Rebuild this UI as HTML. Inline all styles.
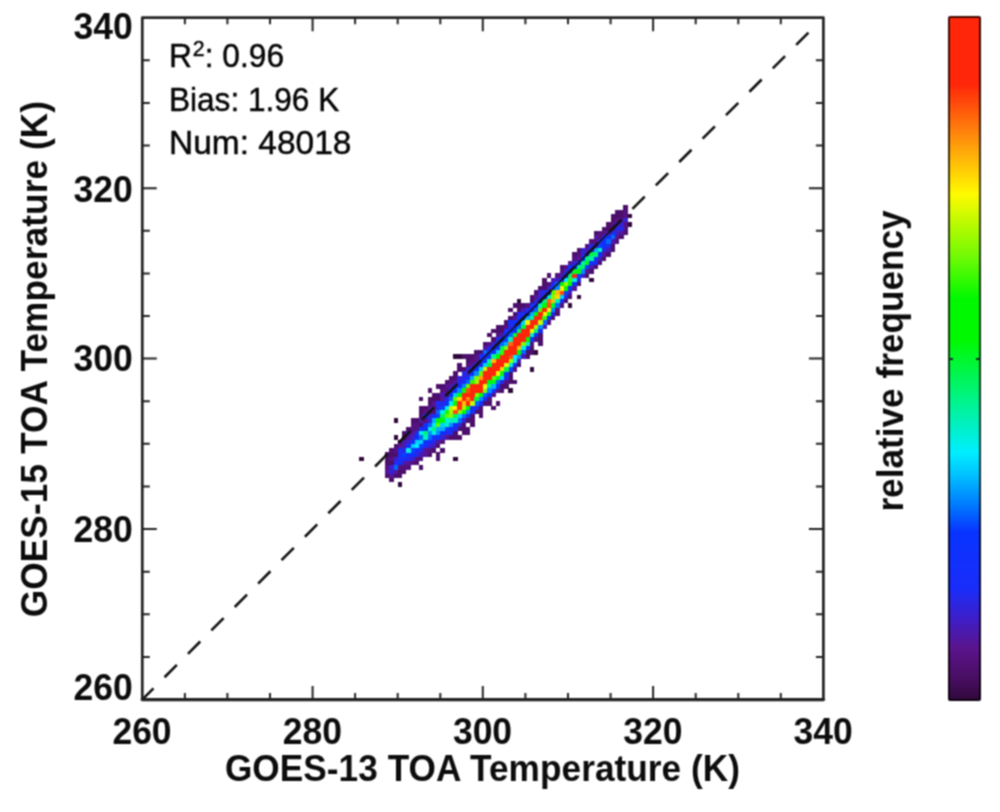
<!DOCTYPE html>
<html><head><meta charset="utf-8"><title>GOES-15 vs GOES-13 TOA Temperature</title>
<style>
html,body{margin:0;padding:0;background:#fff;}
body{width:1000px;height:812px;position:relative;overflow:hidden;font-family:"Liberation Sans",sans-serif;color:#0c0c0c;}
.b{position:absolute;font-weight:bold;white-space:nowrap;line-height:1;}
.f{filter:url(#bl2);}
.tk{font-size:35.5px;}
.xt{transform:translateX(-50%) scaleY(1.055);top:713.8px;}
.yt{text-align:right;width:100px;left:32.8px;transform:scaleY(1.055);}
.ttl{font-size:35.2px;}
.ann{position:absolute;left:168.8px;font-size:33.6px;line-height:1;white-space:nowrap;color:#050505;transform-origin:0 50%;-webkit-text-stroke:0.45px #050505;}
.ann sup{font-size:22.5px;line-height:0;vertical-align:baseline;position:relative;top:-10.6px;margin-left:1px;}
#cb{position:absolute;left:947.8px;top:16.3px;width:29px;height:681px;border:2px solid rgba(0,0,0,0.72);border-radius:2px;background:linear-gradient(to bottom, #ff260a 0.0%, #ff260a 10.0%, #ff910c 18.0%, #fffa00 26.0%, #aafa00 31.4%, #73fa05 35.0%, #00f900 41.3%, #00f900 47.2%, #00f480 55.5%, #00eeff 63.7%, #00beff 67.2%, #007aff 71.4%, #0834ff 75.3%, #1a2dfa 83.6%, #3e1ec8 88.0%, #5a148c 92.3%, #480e62 96.7%, #30083a 100.0%) border-box;}
.cbt{position:absolute;top:357.7px;width:4px;height:2px;background:#222;}
</style></head><body>
<svg width="1000" height="812" viewBox="0 0 1000 812" style="position:absolute;left:0;top:0">
<defs><clipPath id="pc"><rect x="142.3" y="17.7" width="681.1" height="681.8"/></clipPath><filter id="bl" x="-5%" y="-5%" width="110%" height="110%" color-interpolation-filters="sRGB"><feConvolveMatrix order="3" kernelMatrix="1 2 1 2 4 2 1 2 1" divisor="16"/></filter><filter id="bl2" x="-2%" y="-2%" width="104%" height="104%" color-interpolation-filters="sRGB"><feConvolveMatrix order="3" kernelMatrix="1 2 1 2 4 2 1 2 1" divisor="16"/></filter></defs>
<g filter="url(#bl)" shape-rendering="crispEdges">
<path fill="#4c0f6b" d="M384.9 473.7h4.41v4.41h-4.41zM384.9 460.9h4.41v4.41h-4.41zM384.9 456.6h4.41v4.41h-4.41zM384.9 452.3h4.41v4.41h-4.41zM389.2 477.9h4.41v4.41h-4.41zM389.2 460.9h4.41v4.41h-4.41zM389.2 452.3h4.41v4.41h-4.41zM389.2 448.1h4.41v4.41h-4.41zM393.5 473.7h4.41v4.41h-4.41zM393.5 452.3h4.41v4.41h-4.41zM393.5 443.8h4.41v4.41h-4.41zM397.7 473.7h4.41v4.41h-4.41zM397.7 469.4h4.41v4.41h-4.41zM402.0 469.4h4.41v4.41h-4.41zM402.0 435.3h4.41v4.41h-4.41zM402.0 431.0h4.41v4.41h-4.41zM406.2 426.8h4.41v4.41h-4.41zM410.5 418.3h4.41v4.41h-4.41zM414.7 460.9h4.41v4.41h-4.41zM414.7 418.3h4.41v4.41h-4.41zM419.0 465.1h4.41v4.41h-4.41zM419.0 422.5h4.41v4.41h-4.41zM419.0 414.0h4.41v4.41h-4.41zM419.0 409.7h4.41v4.41h-4.41zM419.0 405.5h4.41v4.41h-4.41zM419.0 397.0h4.41v4.41h-4.41zM423.3 405.5h4.41v4.41h-4.41zM427.5 452.3h4.41v4.41h-4.41zM427.5 401.2h4.41v4.41h-4.41zM427.5 397.0h4.41v4.41h-4.41zM427.5 388.4h4.41v4.41h-4.41zM431.8 448.1h4.41v4.41h-4.41zM431.8 397.0h4.41v4.41h-4.41zM431.8 392.7h4.41v4.41h-4.41zM436.0 456.6h4.41v4.41h-4.41zM436.0 452.3h4.41v4.41h-4.41zM436.0 443.8h4.41v4.41h-4.41zM436.0 397.0h4.41v4.41h-4.41zM436.0 392.7h4.41v4.41h-4.41zM436.0 384.2h4.41v4.41h-4.41zM440.3 448.1h4.41v4.41h-4.41zM440.3 384.2h4.41v4.41h-4.41zM444.5 379.9h4.41v4.41h-4.41zM448.8 435.3h4.41v4.41h-4.41zM448.8 375.6h4.41v4.41h-4.41zM453.1 435.3h4.41v4.41h-4.41zM453.1 431.0h4.41v4.41h-4.41zM453.1 375.6h4.41v4.41h-4.41zM453.1 371.4h4.41v4.41h-4.41zM457.3 435.3h4.41v4.41h-4.41zM457.3 426.8h4.41v4.41h-4.41zM457.3 367.1h4.41v4.41h-4.41zM457.3 362.9h4.41v4.41h-4.41zM461.6 431.0h4.41v4.41h-4.41zM461.6 426.8h4.41v4.41h-4.41zM461.6 422.5h4.41v4.41h-4.41zM461.6 367.1h4.41v4.41h-4.41zM461.6 354.3h4.41v4.41h-4.41zM465.8 431.0h4.41v4.41h-4.41zM465.8 426.8h4.41v4.41h-4.41zM465.8 418.3h4.41v4.41h-4.41zM465.8 358.6h4.41v4.41h-4.41zM465.8 354.3h4.41v4.41h-4.41zM470.1 422.5h4.41v4.41h-4.41zM470.1 418.3h4.41v4.41h-4.41zM470.1 414.0h4.41v4.41h-4.41zM470.1 354.3h4.41v4.41h-4.41zM474.3 409.7h4.41v4.41h-4.41zM474.3 350.1h4.41v4.41h-4.41zM478.6 414.0h4.41v4.41h-4.41zM478.6 409.7h4.41v4.41h-4.41zM478.6 405.5h4.41v4.41h-4.41zM478.6 350.1h4.41v4.41h-4.41zM482.8 401.2h4.41v4.41h-4.41zM482.8 341.6h4.41v4.41h-4.41zM487.1 401.2h4.41v4.41h-4.41zM487.1 333.0h4.41v4.41h-4.41zM491.4 405.5h4.41v4.41h-4.41zM491.4 337.3h4.41v4.41h-4.41zM491.4 328.8h4.41v4.41h-4.41zM495.6 401.2h4.41v4.41h-4.41zM495.6 328.8h4.41v4.41h-4.41zM495.6 324.5h4.41v4.41h-4.41zM499.9 388.4h4.41v4.41h-4.41zM499.9 384.2h4.41v4.41h-4.41zM499.9 328.8h4.41v4.41h-4.41zM499.9 324.5h4.41v4.41h-4.41zM504.1 384.2h4.41v4.41h-4.41zM504.1 320.2h4.41v4.41h-4.41zM508.4 379.9h4.41v4.41h-4.41zM508.4 375.6h4.41v4.41h-4.41zM508.4 371.4h4.41v4.41h-4.41zM508.4 316.0h4.41v4.41h-4.41zM508.4 307.5h4.41v4.41h-4.41zM512.6 379.9h4.41v4.41h-4.41zM512.6 311.7h4.41v4.41h-4.41zM512.6 303.2h4.41v4.41h-4.41zM516.9 362.9h4.41v4.41h-4.41zM516.9 307.5h4.41v4.41h-4.41zM516.9 303.2h4.41v4.41h-4.41zM521.2 303.2h4.41v4.41h-4.41zM525.4 354.3h4.41v4.41h-4.41zM525.4 350.1h4.41v4.41h-4.41zM529.7 350.1h4.41v4.41h-4.41zM529.7 345.8h4.41v4.41h-4.41zM529.7 298.9h4.41v4.41h-4.41zM529.7 294.7h4.41v4.41h-4.41zM533.9 290.4h4.41v4.41h-4.41zM538.2 341.6h4.41v4.41h-4.41zM538.2 337.3h4.41v4.41h-4.41zM538.2 333.0h4.41v4.41h-4.41zM538.2 286.2h4.41v4.41h-4.41zM542.4 286.2h4.41v4.41h-4.41zM542.4 281.9h4.41v4.41h-4.41zM542.4 277.6h4.41v4.41h-4.41zM546.7 273.4h4.41v4.41h-4.41zM551.0 316.0h4.41v4.41h-4.41zM555.2 311.7h4.41v4.41h-4.41zM559.5 264.9h4.41v4.41h-4.41zM563.7 298.9h4.41v4.41h-4.41zM568.0 294.7h4.41v4.41h-4.41zM572.2 252.1h4.41v4.41h-4.41zM576.5 281.9h4.41v4.41h-4.41zM576.5 247.8h4.41v4.41h-4.41zM585.0 273.4h4.41v4.41h-4.41zM589.3 269.1h4.41v4.41h-4.41zM593.5 264.9h4.41v4.41h-4.41zM593.5 230.8h4.41v4.41h-4.41zM597.8 260.6h4.41v4.41h-4.41zM602.0 256.3h4.41v4.41h-4.41zM602.0 226.5h4.41v4.41h-4.41zM606.3 252.1h4.41v4.41h-4.41zM606.3 226.5h4.41v4.41h-4.41zM606.3 222.2h4.41v4.41h-4.41zM610.6 247.8h4.41v4.41h-4.41zM610.6 243.5h4.41v4.41h-4.41zM610.6 218.0h4.41v4.41h-4.41zM610.6 213.7h4.41v4.41h-4.41zM614.8 213.7h4.41v4.41h-4.41zM614.8 209.5h4.41v4.41h-4.41zM619.1 235.0h4.41v4.41h-4.41zM619.1 213.7h4.41v4.41h-4.41zM619.1 209.5h4.41v4.41h-4.41zM623.3 230.8h4.41v4.41h-4.41zM623.3 205.2h4.41v4.41h-4.41z"/>
<path fill="#551697" d="M384.9 469.4h4.41v4.41h-4.41zM389.2 473.7h4.41v4.41h-4.41zM393.5 469.4h4.41v4.41h-4.41zM397.7 443.8h4.41v4.41h-4.41zM406.2 460.9h4.41v4.41h-4.41zM406.2 435.3h4.41v4.41h-4.41zM410.5 431.0h4.41v4.41h-4.41zM419.0 418.3h4.41v4.41h-4.41zM423.3 452.3h4.41v4.41h-4.41zM423.3 448.1h4.41v4.41h-4.41zM427.5 405.5h4.41v4.41h-4.41zM431.8 405.5h4.41v4.41h-4.41zM431.8 401.2h4.41v4.41h-4.41zM436.0 439.6h4.41v4.41h-4.41zM440.3 397.0h4.41v4.41h-4.41zM444.5 435.3h4.41v4.41h-4.41zM444.5 392.7h4.41v4.41h-4.41zM444.5 384.2h4.41v4.41h-4.41zM448.8 384.2h4.41v4.41h-4.41zM453.1 379.9h4.41v4.41h-4.41zM470.1 362.9h4.41v4.41h-4.41zM474.3 358.6h4.41v4.41h-4.41zM482.8 345.8h4.41v4.41h-4.41zM512.6 316.0h4.41v4.41h-4.41zM533.9 294.7h4.41v4.41h-4.41zM568.0 260.6h4.41v4.41h-4.41zM572.2 286.2h4.41v4.41h-4.41zM576.5 256.3h4.41v4.41h-4.41zM585.0 269.1h4.41v4.41h-4.41zM593.5 235.0h4.41v4.41h-4.41zM602.0 252.1h4.41v4.41h-4.41zM614.8 235.0h4.41v4.41h-4.41zM619.1 230.8h4.41v4.41h-4.41z"/>
<path fill="#55127f" d="M384.9 465.1h4.41v4.41h-4.41zM389.2 456.6h4.41v4.41h-4.41zM393.5 448.1h4.41v4.41h-4.41zM397.7 465.1h4.41v4.41h-4.41zM397.7 439.6h4.41v4.41h-4.41zM402.0 465.1h4.41v4.41h-4.41zM406.2 465.1h4.41v4.41h-4.41zM410.5 460.9h4.41v4.41h-4.41zM410.5 426.8h4.41v4.41h-4.41zM410.5 422.5h4.41v4.41h-4.41zM414.7 456.6h4.41v4.41h-4.41zM414.7 426.8h4.41v4.41h-4.41zM414.7 422.5h4.41v4.41h-4.41zM419.0 456.6h4.41v4.41h-4.41zM423.3 418.3h4.41v4.41h-4.41zM423.3 409.7h4.41v4.41h-4.41zM427.5 448.1h4.41v4.41h-4.41zM427.5 409.7h4.41v4.41h-4.41zM431.8 409.7h4.41v4.41h-4.41zM440.3 439.6h4.41v4.41h-4.41zM440.3 388.4h4.41v4.41h-4.41zM444.5 388.4h4.41v4.41h-4.41zM448.8 379.9h4.41v4.41h-4.41zM465.8 362.9h4.41v4.41h-4.41zM470.1 358.6h4.41v4.41h-4.41zM474.3 354.3h4.41v4.41h-4.41zM487.1 397.0h4.41v4.41h-4.41zM487.1 341.6h4.41v4.41h-4.41zM491.4 392.7h4.41v4.41h-4.41zM495.6 388.4h4.41v4.41h-4.41zM495.6 333.0h4.41v4.41h-4.41zM504.1 379.9h4.41v4.41h-4.41zM504.1 324.5h4.41v4.41h-4.41zM512.6 367.1h4.41v4.41h-4.41zM525.4 303.2h4.41v4.41h-4.41zM529.7 341.6h4.41v4.41h-4.41zM533.9 337.3h4.41v4.41h-4.41zM546.7 320.2h4.41v4.41h-4.41zM546.7 281.9h4.41v4.41h-4.41zM555.2 307.5h4.41v4.41h-4.41zM555.2 273.4h4.41v4.41h-4.41zM559.5 303.2h4.41v4.41h-4.41zM559.5 269.1h4.41v4.41h-4.41zM563.7 264.9h4.41v4.41h-4.41zM572.2 256.3h4.41v4.41h-4.41zM576.5 252.1h4.41v4.41h-4.41zM585.0 243.5h4.41v4.41h-4.41zM589.3 239.3h4.41v4.41h-4.41zM593.5 239.3h4.41v4.41h-4.41zM597.8 235.0h4.41v4.41h-4.41zM597.8 230.8h4.41v4.41h-4.41zM602.0 230.8h4.41v4.41h-4.41zM610.6 226.5h4.41v4.41h-4.41zM610.6 222.2h4.41v4.41h-4.41zM614.8 239.3h4.41v4.41h-4.41zM614.8 218.0h4.41v4.41h-4.41zM619.1 218.0h4.41v4.41h-4.41zM623.3 226.5h4.41v4.41h-4.41zM623.3 222.2h4.41v4.41h-4.41zM623.3 213.7h4.41v4.41h-4.41zM623.3 209.5h4.41v4.41h-4.41z"/>
<path fill="#3821d1" d="M389.2 469.4h4.41v4.41h-4.41zM389.2 465.1h4.41v4.41h-4.41zM393.5 456.6h4.41v4.41h-4.41zM406.2 439.6h4.41v4.41h-4.41zM410.5 456.6h4.41v4.41h-4.41zM410.5 435.3h4.41v4.41h-4.41zM427.5 443.8h4.41v4.41h-4.41zM427.5 414.0h4.41v4.41h-4.41zM440.3 435.3h4.41v4.41h-4.41zM457.3 422.5h4.41v4.41h-4.41zM457.3 375.6h4.41v4.41h-4.41zM461.6 418.3h4.41v4.41h-4.41zM465.8 371.4h4.41v4.41h-4.41zM465.8 367.1h4.41v4.41h-4.41zM491.4 341.6h4.41v4.41h-4.41zM533.9 298.9h4.41v4.41h-4.41zM538.2 294.7h4.41v4.41h-4.41zM538.2 290.4h4.41v4.41h-4.41zM546.7 286.2h4.41v4.41h-4.41zM555.2 277.6h4.41v4.41h-4.41zM563.7 269.1h4.41v4.41h-4.41zM572.2 260.6h4.41v4.41h-4.41zM580.8 273.4h4.41v4.41h-4.41zM580.8 252.1h4.41v4.41h-4.41zM580.8 247.8h4.41v4.41h-4.41zM593.5 243.5h4.41v4.41h-4.41zM614.8 230.8h4.41v4.41h-4.41zM614.8 222.2h4.41v4.41h-4.41zM619.1 222.2h4.41v4.41h-4.41zM623.3 218.0h4.41v4.41h-4.41z"/>
<path fill="#0269ff" d="M393.5 465.1h4.41v4.41h-4.41zM419.0 435.3h4.41v4.41h-4.41zM427.5 435.3h4.41v4.41h-4.41zM427.5 422.5h4.41v4.41h-4.41zM436.0 409.7h4.41v4.41h-4.41zM448.8 397.0h4.41v4.41h-4.41zM457.3 418.3h4.41v4.41h-4.41zM461.6 414.0h4.41v4.41h-4.41zM465.8 379.9h4.41v4.41h-4.41zM474.3 401.2h4.41v4.41h-4.41zM482.8 392.7h4.41v4.41h-4.41zM482.8 350.1h4.41v4.41h-4.41zM495.6 379.9h4.41v4.41h-4.41zM499.9 341.6h4.41v4.41h-4.41zM508.4 333.0h4.41v4.41h-4.41zM516.9 324.5h4.41v4.41h-4.41zM521.2 350.1h4.41v4.41h-4.41zM533.9 307.5h4.41v4.41h-4.41zM542.4 320.2h4.41v4.41h-4.41zM555.2 303.2h4.41v4.41h-4.41zM555.2 281.9h4.41v4.41h-4.41zM606.3 239.3h4.41v4.41h-4.41zM610.6 235.0h4.41v4.41h-4.41z"/>
<path fill="#192efa" d="M393.5 460.9h4.41v4.41h-4.41zM397.7 456.6h4.41v4.41h-4.41zM397.7 452.3h4.41v4.41h-4.41zM397.7 448.1h4.41v4.41h-4.41zM414.7 448.1h4.41v4.41h-4.41zM419.0 448.1h4.41v4.41h-4.41zM423.3 443.8h4.41v4.41h-4.41zM423.3 422.5h4.41v4.41h-4.41zM431.8 435.3h4.41v4.41h-4.41zM436.0 401.2h4.41v4.41h-4.41zM448.8 431.0h4.41v4.41h-4.41zM461.6 379.9h4.41v4.41h-4.41zM465.8 414.0h4.41v4.41h-4.41zM465.8 375.6h4.41v4.41h-4.41zM470.1 409.7h4.41v4.41h-4.41zM478.6 358.6h4.41v4.41h-4.41zM478.6 354.3h4.41v4.41h-4.41zM482.8 354.3h4.41v4.41h-4.41zM491.4 388.4h4.41v4.41h-4.41zM504.1 328.8h4.41v4.41h-4.41zM512.6 324.5h4.41v4.41h-4.41zM516.9 320.2h4.41v4.41h-4.41zM521.2 311.7h4.41v4.41h-4.41zM525.4 345.8h4.41v4.41h-4.41zM525.4 307.5h4.41v4.41h-4.41zM529.7 303.2h4.41v4.41h-4.41zM538.2 328.8h4.41v4.41h-4.41zM559.5 277.6h4.41v4.41h-4.41zM568.0 269.1h4.41v4.41h-4.41zM593.5 256.3h4.41v4.41h-4.41z"/>
<path fill="#0f31fd" d="M397.7 460.9h4.41v4.41h-4.41zM406.2 452.3h4.41v4.41h-4.41zM410.5 452.3h4.41v4.41h-4.41zM414.7 435.3h4.41v4.41h-4.41zM419.0 426.8h4.41v4.41h-4.41zM436.0 435.3h4.41v4.41h-4.41zM440.3 431.0h4.41v4.41h-4.41zM453.1 422.5h4.41v4.41h-4.41zM453.1 388.4h4.41v4.41h-4.41zM457.3 384.2h4.41v4.41h-4.41zM470.1 371.4h4.41v4.41h-4.41zM474.3 367.1h4.41v4.41h-4.41zM478.6 401.2h4.41v4.41h-4.41zM487.1 392.7h4.41v4.41h-4.41zM487.1 354.3h4.41v4.41h-4.41zM487.1 350.1h4.41v4.41h-4.41zM491.4 350.1h4.41v4.41h-4.41zM495.6 384.2h4.41v4.41h-4.41zM495.6 345.8h4.41v4.41h-4.41zM508.4 328.8h4.41v4.41h-4.41zM508.4 320.2h4.41v4.41h-4.41zM512.6 362.9h4.41v4.41h-4.41zM516.9 316.0h4.41v4.41h-4.41zM521.2 316.0h4.41v4.41h-4.41zM542.4 294.7h4.41v4.41h-4.41zM546.7 290.4h4.41v4.41h-4.41zM568.0 264.9h4.41v4.41h-4.41zM580.8 256.3h4.41v4.41h-4.41zM589.3 260.6h4.41v4.41h-4.41zM606.3 235.0h4.41v4.41h-4.41z"/>
<path fill="#471bb5" d="M402.0 460.9h4.41v4.41h-4.41zM402.0 443.8h4.41v4.41h-4.41zM402.0 439.6h4.41v4.41h-4.41zM406.2 431.0h4.41v4.41h-4.41zM419.0 452.3h4.41v4.41h-4.41zM431.8 443.8h4.41v4.41h-4.41zM440.3 392.7h4.41v4.41h-4.41zM499.9 333.0h4.41v4.41h-4.41zM516.9 358.6h4.41v4.41h-4.41zM521.2 354.3h4.41v4.41h-4.41zM521.2 307.5h4.41v4.41h-4.41zM542.4 324.5h4.41v4.41h-4.41zM551.0 277.6h4.41v4.41h-4.41zM559.5 273.4h4.41v4.41h-4.41zM568.0 290.4h4.41v4.41h-4.41zM585.0 247.8h4.41v4.41h-4.41zM589.3 264.9h4.41v4.41h-4.41zM597.8 256.3h4.41v4.41h-4.41zM606.3 247.8h4.41v4.41h-4.41zM606.3 230.8h4.41v4.41h-4.41zM610.6 239.3h4.41v4.41h-4.41z"/>
<path fill="#142ffc" d="M402.0 456.6h4.41v4.41h-4.41zM406.2 443.8h4.41v4.41h-4.41zM410.5 439.6h4.41v4.41h-4.41zM423.3 414.0h4.41v4.41h-4.41zM427.5 439.6h4.41v4.41h-4.41zM431.8 414.0h4.41v4.41h-4.41zM448.8 426.8h4.41v4.41h-4.41zM482.8 397.0h4.41v4.41h-4.41zM491.4 345.8h4.41v4.41h-4.41zM495.6 341.6h4.41v4.41h-4.41zM512.6 320.2h4.41v4.41h-4.41zM525.4 311.7h4.41v4.41h-4.41zM529.7 307.5h4.41v4.41h-4.41zM533.9 303.2h4.41v4.41h-4.41zM538.2 298.9h4.41v4.41h-4.41zM559.5 298.9h4.41v4.41h-4.41zM563.7 273.4h4.41v4.41h-4.41zM572.2 264.9h4.41v4.41h-4.41zM597.8 252.1h4.41v4.41h-4.41zM610.6 230.8h4.41v4.41h-4.41z"/>
<path fill="#0643ff" d="M402.0 452.3h4.41v4.41h-4.41zM410.5 448.1h4.41v4.41h-4.41zM419.0 443.8h4.41v4.41h-4.41zM436.0 414.0h4.41v4.41h-4.41zM440.3 405.5h4.41v4.41h-4.41zM444.5 426.8h4.41v4.41h-4.41zM504.1 337.3h4.41v4.41h-4.41zM508.4 367.1h4.41v4.41h-4.41zM551.0 286.2h4.41v4.41h-4.41zM563.7 290.4h4.41v4.41h-4.41zM576.5 273.4h4.41v4.41h-4.41zM585.0 264.9h4.41v4.41h-4.41zM597.8 243.5h4.41v4.41h-4.41z"/>
<path fill="#2628e9" d="M402.0 448.1h4.41v4.41h-4.41zM406.2 456.6h4.41v4.41h-4.41zM414.7 452.3h4.41v4.41h-4.41zM414.7 431.0h4.41v4.41h-4.41zM427.5 418.3h4.41v4.41h-4.41zM431.8 439.6h4.41v4.41h-4.41zM436.0 405.5h4.41v4.41h-4.41zM440.3 401.2h4.41v4.41h-4.41zM444.5 431.0h4.41v4.41h-4.41zM444.5 397.0h4.41v4.41h-4.41zM448.8 388.4h4.41v4.41h-4.41zM453.1 426.8h4.41v4.41h-4.41zM453.1 384.2h4.41v4.41h-4.41zM457.3 379.9h4.41v4.41h-4.41zM461.6 375.6h4.41v4.41h-4.41zM461.6 371.4h4.41v4.41h-4.41zM470.1 367.1h4.41v4.41h-4.41zM474.3 405.5h4.41v4.41h-4.41zM474.3 362.9h4.41v4.41h-4.41zM478.6 362.9h4.41v4.41h-4.41zM487.1 345.8h4.41v4.41h-4.41zM495.6 337.3h4.41v4.41h-4.41zM499.9 379.9h4.41v4.41h-4.41zM504.1 375.6h4.41v4.41h-4.41zM508.4 324.5h4.41v4.41h-4.41zM516.9 311.7h4.41v4.41h-4.41zM542.4 290.4h4.41v4.41h-4.41zM551.0 311.7h4.41v4.41h-4.41zM551.0 281.9h4.41v4.41h-4.41zM563.7 294.7h4.41v4.41h-4.41zM576.5 277.6h4.41v4.41h-4.41zM585.0 252.1h4.41v4.41h-4.41zM589.3 247.8h4.41v4.41h-4.41zM589.3 243.5h4.41v4.41h-4.41zM593.5 260.6h4.41v4.41h-4.41zM597.8 239.3h4.41v4.41h-4.41zM602.0 247.8h4.41v4.41h-4.41zM602.0 235.0h4.41v4.41h-4.41zM606.3 243.5h4.41v4.41h-4.41zM614.8 226.5h4.41v4.41h-4.41zM619.1 226.5h4.41v4.41h-4.41z"/>
<path fill="#00efe0" d="M406.2 448.1h4.41v4.41h-4.41zM427.5 426.8h4.41v4.41h-4.41zM431.8 431.0h4.41v4.41h-4.41zM431.8 422.5h4.41v4.41h-4.41zM444.5 418.3h4.41v4.41h-4.41zM512.6 358.6h4.41v4.41h-4.41zM521.2 345.8h4.41v4.41h-4.41zM572.2 277.6h4.41v4.41h-4.41z"/>
<path fill="#00cfff" d="M410.5 443.8h4.41v4.41h-4.41zM414.7 439.6h4.41v4.41h-4.41zM419.0 439.6h4.41v4.41h-4.41zM440.3 422.5h4.41v4.41h-4.41zM453.1 392.7h4.41v4.41h-4.41zM457.3 414.0h4.41v4.41h-4.41zM478.6 367.1h4.41v4.41h-4.41zM482.8 362.9h4.41v4.41h-4.41zM495.6 350.1h4.41v4.41h-4.41zM499.9 375.6h4.41v4.41h-4.41zM521.2 320.2h4.41v4.41h-4.41zM559.5 294.7h4.41v4.41h-4.41z"/>
<path fill="#00ecff" d="M414.7 443.8h4.41v4.41h-4.41zM419.0 431.0h4.41v4.41h-4.41zM440.3 409.7h4.41v4.41h-4.41zM444.5 405.5h4.41v4.41h-4.41zM448.8 401.2h4.41v4.41h-4.41zM512.6 354.3h4.41v4.41h-4.41zM563.7 277.6h4.41v4.41h-4.41z"/>
<path fill="#0b33fe" d="M423.3 439.6h4.41v4.41h-4.41zM423.3 426.8h4.41v4.41h-4.41zM444.5 401.2h4.41v4.41h-4.41zM448.8 392.7h4.41v4.41h-4.41zM470.1 405.5h4.41v4.41h-4.41zM482.8 358.6h4.41v4.41h-4.41zM499.9 337.3h4.41v4.41h-4.41zM504.1 371.4h4.41v4.41h-4.41zM504.1 333.0h4.41v4.41h-4.41zM512.6 328.8h4.41v4.41h-4.41zM529.7 337.3h4.41v4.41h-4.41zM533.9 333.0h4.41v4.41h-4.41zM546.7 316.0h4.41v4.41h-4.41zM568.0 286.2h4.41v4.41h-4.41zM572.2 281.9h4.41v4.41h-4.41zM576.5 260.6h4.41v4.41h-4.41zM602.0 243.5h4.41v4.41h-4.41zM602.0 239.3h4.41v4.41h-4.41z"/>
<path fill="#00f1bf" d="M423.3 435.3h4.41v4.41h-4.41zM444.5 422.5h4.41v4.41h-4.41zM448.8 418.3h4.41v4.41h-4.41zM453.1 418.3h4.41v4.41h-4.41zM487.1 358.6h4.41v4.41h-4.41zM508.4 362.9h4.41v4.41h-4.41zM508.4 337.3h4.41v4.41h-4.41zM525.4 341.6h4.41v4.41h-4.41zM529.7 333.0h4.41v4.41h-4.41zM538.2 303.2h4.41v4.41h-4.41zM546.7 294.7h4.41v4.41h-4.41zM555.2 298.9h4.41v4.41h-4.41zM597.8 247.8h4.41v4.41h-4.41z"/>
<path fill="#00f47d" d="M423.3 431.0h4.41v4.41h-4.41zM431.8 426.8h4.41v4.41h-4.41zM487.1 384.2h4.41v4.41h-4.41zM533.9 328.8h4.41v4.41h-4.41zM542.4 298.9h4.41v4.41h-4.41zM576.5 264.9h4.41v4.41h-4.41zM585.0 256.3h4.41v4.41h-4.41zM593.5 252.1h4.41v4.41h-4.41z"/>
<path fill="#008dff" d="M427.5 431.0h4.41v4.41h-4.41zM436.0 431.0h4.41v4.41h-4.41zM448.8 422.5h4.41v4.41h-4.41zM457.3 388.4h4.41v4.41h-4.41zM461.6 384.2h4.41v4.41h-4.41zM465.8 409.7h4.41v4.41h-4.41zM474.3 371.4h4.41v4.41h-4.41zM478.6 397.0h4.41v4.41h-4.41zM487.1 388.4h4.41v4.41h-4.41zM516.9 354.3h4.41v4.41h-4.41zM538.2 324.5h4.41v4.41h-4.41zM551.0 307.5h4.41v4.41h-4.41zM555.2 286.2h4.41v4.41h-4.41zM580.8 269.1h4.41v4.41h-4.41z"/>
<path fill="#00b0ff" d="M431.8 418.3h4.41v4.41h-4.41zM436.0 426.8h4.41v4.41h-4.41zM440.3 426.8h4.41v4.41h-4.41zM470.1 375.6h4.41v4.41h-4.41zM491.4 384.2h4.41v4.41h-4.41zM504.1 341.6h4.41v4.41h-4.41zM525.4 316.0h4.41v4.41h-4.41zM529.7 311.7h4.41v4.41h-4.41zM593.5 247.8h4.41v4.41h-4.41z"/>
<path fill="#5efa04" d="M436.0 422.5h4.41v4.41h-4.41zM444.5 414.0h4.41v4.41h-4.41zM453.1 397.0h4.41v4.41h-4.41zM465.8 384.2h4.41v4.41h-4.41zM478.6 371.4h4.41v4.41h-4.41zM491.4 375.6h4.41v4.41h-4.41zM538.2 307.5h4.41v4.41h-4.41zM551.0 290.4h4.41v4.41h-4.41z"/>
<path fill="#00f900" d="M436.0 418.3h4.41v4.41h-4.41zM440.3 418.3h4.41v4.41h-4.41zM453.1 401.2h4.41v4.41h-4.41zM457.3 392.7h4.41v4.41h-4.41zM461.6 409.7h4.41v4.41h-4.41zM465.8 405.5h4.41v4.41h-4.41zM478.6 392.7h4.41v4.41h-4.41zM487.1 379.9h4.41v4.41h-4.41zM495.6 354.3h4.41v4.41h-4.41zM516.9 350.1h4.41v4.41h-4.41zM525.4 337.3h4.41v4.41h-4.41zM533.9 311.7h4.41v4.41h-4.41zM542.4 303.2h4.41v4.41h-4.41zM559.5 281.9h4.41v4.41h-4.41zM563.7 286.2h4.41v4.41h-4.41zM568.0 281.9h4.41v4.41h-4.41zM576.5 269.1h4.41v4.41h-4.41z"/>
<path fill="#00f55c" d="M440.3 414.0h4.41v4.41h-4.41zM453.1 414.0h4.41v4.41h-4.41zM499.9 345.8h4.41v4.41h-4.41zM516.9 328.8h4.41v4.41h-4.41zM568.0 273.4h4.41v4.41h-4.41zM580.8 264.9h4.41v4.41h-4.41z"/>
<path fill="#10f901" d="M444.5 409.7h4.41v4.41h-4.41zM461.6 388.4h4.41v4.41h-4.41z"/>
<path fill="#82fa04" d="M448.8 414.0h4.41v4.41h-4.41zM457.3 409.7h4.41v4.41h-4.41zM474.3 392.7h4.41v4.41h-4.41zM474.3 375.6h4.41v4.41h-4.41zM482.8 388.4h4.41v4.41h-4.41zM504.1 345.8h4.41v4.41h-4.41zM521.2 341.6h4.41v4.41h-4.41zM551.0 294.7h4.41v4.41h-4.41z"/>
<path fill="#a2fa01" d="M448.8 409.7h4.41v4.41h-4.41zM461.6 405.5h4.41v4.41h-4.41zM474.3 379.9h4.41v4.41h-4.41zM508.4 358.6h4.41v4.41h-4.41zM533.9 324.5h4.41v4.41h-4.41zM563.7 281.9h4.41v4.41h-4.41z"/>
<path fill="#c3fa00" d="M448.8 405.5h4.41v4.41h-4.41zM470.1 401.2h4.41v4.41h-4.41zM482.8 367.1h4.41v4.41h-4.41zM538.2 320.2h4.41v4.41h-4.41z"/>
<path fill="#ff4b0b" d="M453.1 409.7h4.41v4.41h-4.41zM465.8 388.4h4.41v4.41h-4.41zM508.4 354.3h4.41v4.41h-4.41zM546.7 303.2h4.41v4.41h-4.41zM559.5 290.4h4.41v4.41h-4.41z"/>
<path fill="#fff401" d="M453.1 405.5h4.41v4.41h-4.41zM482.8 384.2h4.41v4.41h-4.41zM542.4 311.7h4.41v4.41h-4.41zM546.7 307.5h4.41v4.41h-4.41zM559.5 286.2h4.41v4.41h-4.41z"/>
<path fill="#ff2f0a" d="M457.3 405.5h4.41v4.41h-4.41zM457.3 401.2h4.41v4.41h-4.41z"/>
<path fill="#ffd804" d="M457.3 397.0h4.41v4.41h-4.41zM499.9 367.1h4.41v4.41h-4.41zM555.2 294.7h4.41v4.41h-4.41z"/>
<path fill="#ffbc07" d="M461.6 401.2h4.41v4.41h-4.41zM491.4 358.6h4.41v4.41h-4.41zM516.9 345.8h4.41v4.41h-4.41zM551.0 298.9h4.41v4.41h-4.41zM555.2 290.4h4.41v4.41h-4.41z"/>
<path fill="#ff260a" d="M461.6 397.0h4.41v4.41h-4.41zM461.6 392.7h4.41v4.41h-4.41zM465.8 401.2h4.41v4.41h-4.41zM465.8 392.7h4.41v4.41h-4.41zM470.1 397.0h4.41v4.41h-4.41zM470.1 392.7h4.41v4.41h-4.41zM470.1 388.4h4.41v4.41h-4.41zM470.1 384.2h4.41v4.41h-4.41zM474.3 388.4h4.41v4.41h-4.41zM474.3 384.2h4.41v4.41h-4.41zM478.6 388.4h4.41v4.41h-4.41zM478.6 384.2h4.41v4.41h-4.41zM478.6 379.9h4.41v4.41h-4.41zM482.8 379.9h4.41v4.41h-4.41zM482.8 375.6h4.41v4.41h-4.41zM482.8 371.4h4.41v4.41h-4.41zM487.1 375.6h4.41v4.41h-4.41zM487.1 371.4h4.41v4.41h-4.41zM487.1 367.1h4.41v4.41h-4.41zM491.4 371.4h4.41v4.41h-4.41zM491.4 367.1h4.41v4.41h-4.41zM491.4 362.9h4.41v4.41h-4.41zM495.6 367.1h4.41v4.41h-4.41zM495.6 362.9h4.41v4.41h-4.41zM495.6 358.6h4.41v4.41h-4.41zM499.9 362.9h4.41v4.41h-4.41zM499.9 358.6h4.41v4.41h-4.41zM499.9 354.3h4.41v4.41h-4.41zM504.1 358.6h4.41v4.41h-4.41zM504.1 354.3h4.41v4.41h-4.41zM504.1 350.1h4.41v4.41h-4.41zM508.4 350.1h4.41v4.41h-4.41zM508.4 345.8h4.41v4.41h-4.41zM512.6 350.1h4.41v4.41h-4.41zM512.6 345.8h4.41v4.41h-4.41zM512.6 341.6h4.41v4.41h-4.41zM512.6 337.3h4.41v4.41h-4.41zM516.9 341.6h4.41v4.41h-4.41zM516.9 337.3h4.41v4.41h-4.41zM516.9 333.0h4.41v4.41h-4.41zM521.2 337.3h4.41v4.41h-4.41zM521.2 333.0h4.41v4.41h-4.41zM521.2 328.8h4.41v4.41h-4.41zM525.4 333.0h4.41v4.41h-4.41zM525.4 328.8h4.41v4.41h-4.41zM525.4 324.5h4.41v4.41h-4.41zM529.7 324.5h4.41v4.41h-4.41zM529.7 320.2h4.41v4.41h-4.41zM533.9 320.2h4.41v4.41h-4.41zM533.9 316.0h4.41v4.41h-4.41zM538.2 316.0h4.41v4.41h-4.41zM538.2 311.7h4.41v4.41h-4.41zM542.4 307.5h4.41v4.41h-4.41zM572.2 273.4h4.41v4.41h-4.41z"/>
<path fill="#ff840c" d="M465.8 397.0h4.41v4.41h-4.41z"/>
<path fill="#37f902" d="M470.1 379.9h4.41v4.41h-4.41zM499.9 350.1h4.41v4.41h-4.41zM542.4 316.0h4.41v4.41h-4.41zM568.0 277.6h4.41v4.41h-4.41z"/>
<path fill="#00f73c" d="M474.3 397.0h4.41v4.41h-4.41zM487.1 362.9h4.41v4.41h-4.41zM504.1 367.1h4.41v4.41h-4.41zM512.6 333.0h4.41v4.41h-4.41zM521.2 324.5h4.41v4.41h-4.41zM589.3 252.1h4.41v4.41h-4.41z"/>
<path fill="#ffa00a" d="M478.6 375.6h4.41v4.41h-4.41z"/>
<path fill="#00f81b" d="M491.4 379.9h4.41v4.41h-4.41zM495.6 375.6h4.41v4.41h-4.41zM499.9 371.4h4.41v4.41h-4.41zM546.7 311.7h4.41v4.41h-4.41zM551.0 303.2h4.41v4.41h-4.41zM572.2 269.1h4.41v4.41h-4.41zM585.0 260.6h4.41v4.41h-4.41z"/>
<path fill="#00f39e" d="M491.4 354.3h4.41v4.41h-4.41zM529.7 316.0h4.41v4.41h-4.41zM580.8 260.6h4.41v4.41h-4.41zM589.3 256.3h4.41v4.41h-4.41z"/>
<path fill="#e5fa00" d="M495.6 371.4h4.41v4.41h-4.41zM504.1 362.9h4.41v4.41h-4.41zM525.4 320.2h4.41v4.41h-4.41zM529.7 328.8h4.41v4.41h-4.41z"/>
<path fill="#ff670b" d="M508.4 341.6h4.41v4.41h-4.41zM546.7 298.9h4.41v4.41h-4.41z"/>
<path fill="#30083a" d="M516.9 298.9h4.41v4.41h-4.41zM453.1 354.3h4.41v4.41h-4.41zM457.3 354.3h4.41v4.41h-4.41zM393.5 418.3h4.41v4.41h-4.41zM393.5 435.3h4.41v4.41h-4.41zM529.7 367.1h4.41v4.41h-4.41zM533.9 350.1h4.41v4.41h-4.41zM508.4 388.4h4.41v4.41h-4.41zM453.1 456.6h4.41v4.41h-4.41zM397.7 482.2h4.41v4.41h-4.41zM627.6 213.7h4.41v4.41h-4.41zM568.0 303.2h4.41v4.41h-4.41zM359.4 456.6h4.41v4.41h-4.41zM576.5 294.7h4.41v4.41h-4.41zM589.3 277.6h4.41v4.41h-4.41zM627.6 222.2h4.41v4.41h-4.41z"/>
</g>
<g filter="url(#bl2)">
<line x1="468.0" y1="373.5" x2="621.6" y2="219.7" stroke="#111" stroke-width="1.5"/>
<line x1="142.3" y1="699.5" x2="810.6" y2="30.5" stroke="#111" stroke-width="2.6" stroke-dasharray="17.4 15.7" stroke-dashoffset="1.6" clip-path="url(#pc)"/>
<path d="M184.9 699.5v-6.5M184.9 17.7v6.5M142.3 656.9h7.5M823.4 656.9h-7.5M227.4 699.5v-6.5M227.4 17.7v6.5M142.3 614.3h7.5M823.4 614.3h-7.5M270.0 699.5v-6.5M270.0 17.7v6.5M142.3 571.7h7.5M823.4 571.7h-7.5M312.6 699.5v-13.5M312.6 17.7v13.5M142.3 529.0h14.5M823.4 529.0h-14.5M355.1 699.5v-6.5M355.1 17.7v6.5M142.3 486.4h7.5M823.4 486.4h-7.5M397.7 699.5v-6.5M397.7 17.7v6.5M142.3 443.8h7.5M823.4 443.8h-7.5M440.3 699.5v-6.5M440.3 17.7v6.5M142.3 401.2h7.5M823.4 401.2h-7.5M482.8 699.5v-13.5M482.8 17.7v13.5M142.3 358.6h14.5M823.4 358.6h-14.5M525.4 699.5v-6.5M525.4 17.7v6.5M142.3 316.0h7.5M823.4 316.0h-7.5M568.0 699.5v-6.5M568.0 17.7v6.5M142.3 273.4h7.5M823.4 273.4h-7.5M610.6 699.5v-6.5M610.6 17.7v6.5M142.3 230.8h7.5M823.4 230.8h-7.5M653.1 699.5v-13.5M653.1 17.7v13.5M142.3 188.2h14.5M823.4 188.2h-14.5M695.7 699.5v-6.5M695.7 17.7v6.5M142.3 145.5h7.5M823.4 145.5h-7.5M738.3 699.5v-6.5M738.3 17.7v6.5M142.3 102.9h7.5M823.4 102.9h-7.5M780.8 699.5v-6.5M780.8 17.7v6.5M142.3 60.3h7.5M823.4 60.3h-7.5" stroke="#222" stroke-width="2" fill="none"/>
<path d="M142.3 699.5V17.7H823.4V699.5" stroke="#222" stroke-width="2.7" fill="none" stroke-linejoin="round"/>
<path d="M142.3 699.6H823.4" stroke="#222" stroke-width="3.4" fill="none" stroke-linecap="round"/>
</g>
</svg>
<div class="f" style="position:absolute;left:0;top:0;width:1000px;height:812px">
<div class="b tk yt" style="top:9.2px">340</div>
<div class="b tk yt" style="top:171.8px">320</div>
<div class="b tk yt" style="top:340.6px">300</div>
<div class="b tk yt" style="top:512.0px">280</div>
<div class="b tk yt" style="top:669.6px">260</div>
<div class="b tk xt" style="left:142.0px">260</div>
<div class="b tk xt" style="left:312.3px">280</div>
<div class="b tk xt" style="left:482.5px">300</div>
<div class="b tk xt" style="left:652.8px">320</div>
<div class="b tk xt" style="left:823.1px">340</div>
<div class="b ttl" id="xtitle" style="left:482.5px;top:751.0px;transform:translateX(-50%) scaleY(1.03);letter-spacing:0.06px">GOES-13 TOA Temperature (K)</div>
<div class="b ttl" id="ytitle" style="left:33.8px;top:358.5px;transform:translate(-50%,-50%) rotate(-90deg) scaleY(1.03);letter-spacing:0.1px">GOES-15 TOA Temperature (K)</div>
<div class="b" id="cbl" style="font-size:35.2px;left:890.0px;top:361.3px;transform:translate(-50%,-50%) rotate(-90deg) scaleY(1.055)">relative frequency</div>
<div class="ann" id="a1" style="top:38.6px;left:169.2px;transform:scaleX(0.945)">R<sup>2</sup>: 0.96</div>
<div class="ann" id="a2" style="top:82.5px;left:169.2px;transform:scaleX(0.94)">Bias: 1.96 K</div>
<div class="ann" id="a3" style="top:126.2px;left:168.8px;transform:scaleX(0.997)">Num: 48018</div>
<div id="cb"></div>
<div class="cbt" style="left:949px"></div><div class="cbt" style="left:975.5px"></div>
</div>
</body></html>
